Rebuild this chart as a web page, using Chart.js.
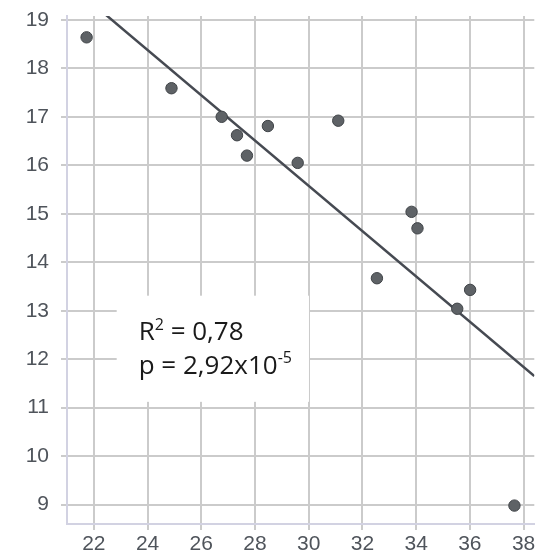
<!DOCTYPE html>
<html>
<head>
<meta charset="utf-8">
<script src="https://cdn.jsdelivr.net/npm/chart.js@4"></script>
<style>
  body { margin: 0; background: #fff; }
  #wrap { width: 541px; height: 554px; }
</style>
</head>
<body>
<div id="wrap"><canvas id="myChart" width="541" height="554"></canvas></div>
<script>
// measured samples
const xValues = [21.73, 24.89, 26.76, 27.33, 27.70, 28.48, 29.59, 31.10, 32.54, 33.83, 34.05, 35.53, 36.01, 37.66];
const yValues = [18.64, 17.59, 17.00, 16.62, 16.20, 16.81, 16.05, 16.92, 13.67, 15.04, 14.70, 13.04, 13.43, 8.98];

// fitted trend line, two end points
const fitX = [21, 38.4];
const fitY = [19.78, 11.65];

const xTicks = [22, 24, 26, 28, 30, 32, 34, 36, 38];
const yTicks = [9, 10, 11, 12, 13, 14, 15, 16, 17, 18, 19];

const statsLines = ['R', '0,78', 'p = 2,92x10', '-5'];

const ctx = document.getElementById('myChart');

// white box with the fit statistics, sitting on top of the grid
const statsBox = {
    id: 'statsBox',
    beforeDatasetsDraw(chart) {
        const c = chart.ctx;
        const x = chart.scales.x;
        const y = chart.scales.y;
        const left = x.getPixelForValue(22.85);
        const right = x.getPixelForValue(30.01);
        const top = y.getPixelForValue(13.31);
        const bottom = y.getPixelForValue(11.12);
        c.save();
        c.fillStyle = '#ffffff';
        c.fillRect(left, top, right - left, bottom - top);

        const tx = left + 22;
        c.fillStyle = '#1a1a1a';
        c.textBaseline = 'alphabetic';
        c.textAlign = 'left';
        const big = '26px "Open Sans"';
        const small = '16px "Open Sans"';

        // R² = 0,78
        let base = top + 44;
        c.font = big;
        c.fillText(statsLines[0], tx, base);
        let px = tx + c.measureText(statsLines[0]).width;
        c.font = small;
        c.fillText('2', px, base - 10);
        px += c.measureText('2').width;
        c.font = big;
        c.fillText(' = ' + statsLines[1], px, base);

        // p = 2,92x10^-5
        base = top + 78;
        c.fillText(statsLines[2], tx, base);
        px = tx + c.measureText(statsLines[2]).width;
        c.font = small;
        c.fillText(statsLines[3], px, base - 11);
        c.restore();
    }
};

const myChart = new Chart(ctx, {
    type: 'scatter',
    data: {
        datasets: [
            {
                type: 'line',
                data: fitX.map((v, i) => ({ x: v, y: fitY[i] })),
                borderColor: '#464a52',
                borderWidth: 2.5,
                pointRadius: 0,
                fill: false,
                order: 2
            },
            {
                data: xValues.map((v, i) => ({ x: v, y: yValues[i] })),
                backgroundColor: '#5e6266',
                borderColor: '#3f4347',
                borderWidth: 1,
                pointRadius: 5.7,
                order: 1
            }
        ]
    },
    options: {
        responsive: false,
        animation: false,
        layout: { padding: { top: 16, right: 3, left: 0, bottom: 0 } },
        plugins: {
            legend: { display: false },
            tooltip: { enabled: false }
        },
        scales: {
            x: {
                type: 'linear',
                min: 21,
                max: 38.4,
                afterBuildTicks: (s) => { s.ticks = xTicks.map(v => ({ value: v })); },
                afterFit: (s) => { s.height = 30; s.paddingLeft = 0; s.paddingRight = 0; },
                border: { color: '#d2d2e2', width: 2 },
                grid: { color: '#cbcbcb', lineWidth: 2, tickLength: 6 },
                ticks: {
                    color: '#4f545b',
                    font: { family: '"Liberation Sans", Arial', size: 21 },
                    padding: 2,
                    maxRotation: 0
                }
            },
            y: {
                type: 'linear',
                min: 8.6,
                max: 19.08,
                afterBuildTicks: (s) => { s.ticks = yTicks.map(v => ({ value: v })); },
                afterFit: (s) => { s.width = 67; s.paddingTop = 0; s.paddingBottom = 0; },
                border: { color: '#d2d2e2', width: 2 },
                grid: { color: '#cbcbcb', lineWidth: 2, tickLength: 6 },
                ticks: {
                    color: '#4f545b',
                    font: { family: '"Liberation Sans", Arial', size: 21 },
                    padding: 12
                }
            }
        }
    },
    plugins: [statsBox]
});
</script>
</body>
</html>
